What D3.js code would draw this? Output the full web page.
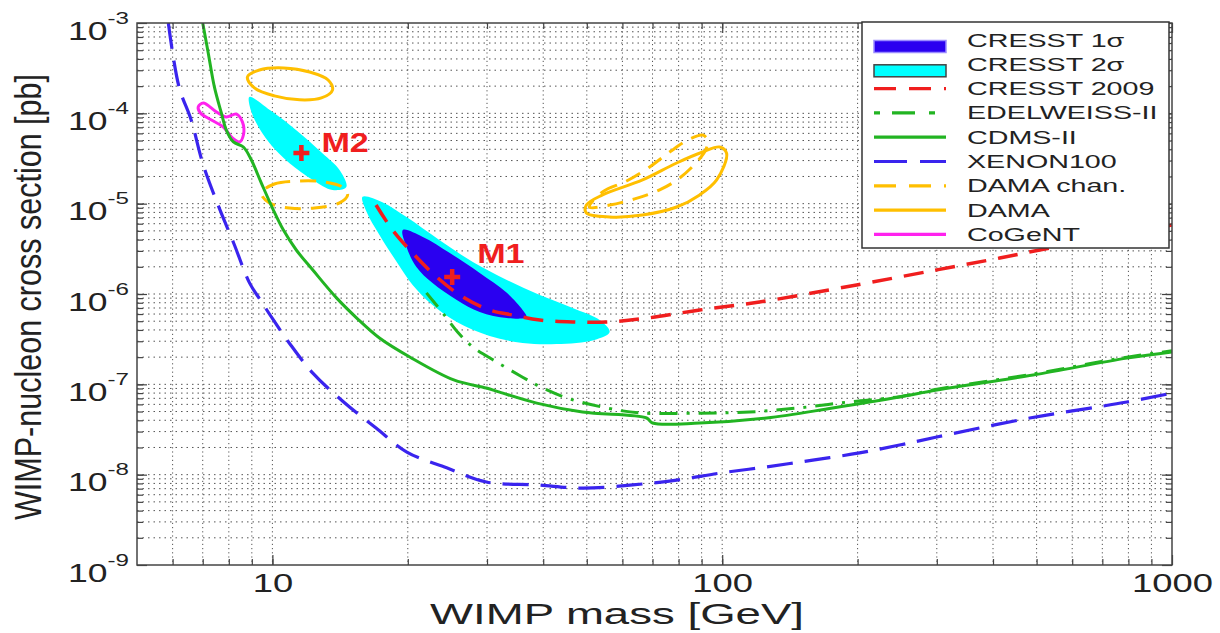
<!DOCTYPE html>
<html><head><meta charset="utf-8">
<script src="https://cdn.jsdelivr.net/npm/d3@7"></script>
<style>
body{margin:0;background:#fff;}
svg{display:block;font-family:"Liberation Sans",Arial,Helvetica,sans-serif;}
</style></head><body>
<svg id="chart" width="1220" height="633"></svg>
<script>
// ---------------- DATA (mass in GeV, cross section in pb) ----------------
const xenonMass  = [5.87, 6.2, 6.6, 7.0, 7.6, 8.2, 8.9, 9.4, 10.05, 10.9, 12.3, 14.4, 17.0, 19.9, 24.4, 29.9, 38.7, 48.9, 63.2, 79.2, 98.7, 125.5, 159, 202, 248, 300, 483, 794, 1000];
const xenonSigma = [1e-3, 1.96e-4, 8.4e-5, 2.8e-5, 9.2e-6, 3.67e-6, 1.32e-6, 8.6e-7, 5.16e-7, 2.87e-7, 1.33e-7, 6.37e-8, 3.28e-8, 1.78e-8, 1.19e-8, 8.3e-9, 7.7e-9, 7.1e-9, 7.7e-9, 8.7e-9, 1.04e-8, 1.22e-8, 1.45e-8, 1.74e-8, 2.13e-8, 2.61e-8, 4.24e-8, 6.37e-8, 8.0e-8];

const cdmsMass  = [7.0, 7.2, 7.43, 7.7, 7.9, 8.19, 8.62, 8.98, 9.45, 10.05, 10.58, 11.3, 12.3, 13.9, 15.4, 17.3, 20.2, 25.3, 29.9, 32.0, 38.7, 48.9, 67.9, 70.0, 89.1, 125.5, 176, 248, 300, 491, 794, 1000];
const cdmsSigma = [1e-3, 4.66e-4, 1.96e-4, 1.01e-4, 6.53e-5, 4.82e-5, 4.24e-5, 3.04e-5, 1.69e-5, 8.5e-6, 5.1e-6, 3.07e-6, 1.84e-6, 9.0e-7, 5.42e-7, 3.26e-7, 2.01e-7, 1.12e-7, 9.1e-8, 8.2e-8, 6.2e-8, 4.94e-8, 4.24e-8, 3.73e-8, 3.73e-8, 4.24e-8, 5.47e-8, 7.24e-8, 8.65e-8, 1.27e-7, 1.95e-7, 2.28e-7];

const edwMass  = [22.0, 23.9, 25.8, 27.9, 31.5, 36.0, 39.9, 45.8, 58.4, 66.5, 89.1, 115, 149, 192, 248, 300, 490, 794, 1000];
const edwSigma = [1.03e-6, 6.2e-7, 3.8e-7, 2.59e-7, 1.77e-7, 1.2e-7, 9.1e-8, 6.9e-8, 5.2e-8, 4.8e-8, 4.8e-8, 4.94e-8, 5.5e-8, 6.4e-8, 7.3e-8, 8.8e-8, 1.3e-7, 2.0e-7, 2.35e-7];

const cresst09Mass  = [17.0, 18.5, 20.5, 23.2, 26.5, 30.4, 34.2, 39.3, 46.5, 55.3, 67.9, 89.1, 121, 199, 300, 414, 508, 1000];
const cresst09Sigma = [9.66e-6, 5.1e-6, 2.84e-6, 1.54e-6, 9.27e-7, 6.65e-7, 5.85e-7, 5.15e-7, 4.9e-7, 4.9e-7, 5.4e-7, 6.65e-7, 8.15e-7, 1.26e-6, 1.85e-6, 2.5e-6, 3.07e-6, 5.8e-6];

const cresst2M1Mass  = [15.86, 17.56, 19.87, 23.5, 27.9, 33.2, 39.3, 46.5, 53.4, 56.2, 52.0, 42.8, 36.0, 30.4, 25.7, 22.7, 20.5, 18.9, 17.3, 16.2];
const cresst2M1Sigma = [1.19e-5, 1.04e-5, 7.1e-6, 3.96e-6, 2.26e-6, 1.43e-6, 9.75e-7, 7.0e-7, 5.15e-7, 3.79e-7, 3.1e-7, 2.79e-7, 2.87e-7, 3.43e-7, 4.9e-7, 7.55e-7, 1.26e-6, 2.26e-6, 4.5e-6, 8.1e-6];

const cresst2M2Mass  = [8.89, 10.0, 11.3, 12.9, 14.1, 14.6, 13.6, 12.3, 10.9, 9.85, 9.21, 8.89];
const cresst2M2Sigma = [1.52e-4, 1.04e-4, 6.5e-5, 3.64e-5, 2.36e-5, 1.53e-5, 1.42e-5, 1.83e-5, 2.82e-5, 4.7e-5, 7.8e-5, 1.24e-4];

const cresst1Mass  = [19.5, 21.6, 24.8, 28.9, 33.2, 36.0, 36.7, 33.2, 28.9, 25.7, 22.7, 20.9, 19.87];
const cresst1Sigma = [5.1e-6, 4.27e-6, 2.84e-6, 1.71e-6, 1.03e-6, 6.65e-7, 5.56e-7, 5.42e-7, 6.32e-7, 8.6e-7, 1.32e-6, 1.99e-6, 3.31e-6];

const damaLowMass  = [8.80, 9.36, 10.6, 12.1, 13.3, 13.6, 12.85, 11.5, 10.1, 9.12];
const damaLowSigma = [2.52e-4, 3.02e-4, 3.18e-4, 2.87e-4, 2.34e-4, 1.81e-4, 1.48e-4, 1.41e-4, 1.56e-4, 1.91e-4];
const damaHighMass  = [49.9, 54.2, 66.5, 79.2, 90.5, 98.7, 102.3, 97.2, 89.1, 79.2, 66.5, 56.2, 49.9];
const damaHighSigma = [9.66e-6, 1.25e-5, 1.83e-5, 2.82e-5, 3.73e-5, 4.24e-5, 3.6e-5, 1.83e-5, 1.25e-5, 9.18e-6, 7.48e-6, 7.12e-6, 7.88e-6];

const damaChLowMass  = [9.45, 10.1, 11.5, 13.05, 14.3, 14.7, 14.1, 12.4, 10.9, 9.85];
const damaChLowSigma = [1.31e-5, 1.65e-5, 1.78e-5, 1.74e-5, 1.53e-5, 1.25e-5, 1.02e-5, 8.95e-6, 8.95e-6, 1.02e-5];
const damaChHighMass  = [50.7, 54.2, 61.3, 69.0, 76.4, 84.7, 90.5, 92.8, 91.9, 87.8, 80.4, 72.6, 63.9, 56.2];
const damaChHighSigma = [9.18e-6, 1.35e-5, 1.78e-5, 2.55e-5, 3.73e-5, 5.2e-5, 5.75e-5, 5.07e-5, 3.93e-5, 2.89e-5, 1.92e-5, 1.42e-5, 1.13e-5, 9.66e-6];

const cogentMass  = [6.84, 7.02, 7.50, 7.90, 8.31, 8.58, 8.62, 8.45, 8.15, 7.78, 7.32, 6.92];
const cogentSigma = [1.18e-4, 1.30e-4, 1.04e-4, 9.1e-5, 9.8e-5, 8.0e-5, 5.75e-5, 4.82e-5, 5.33e-5, 7.06e-5, 8.43e-5, 1.01e-4];

const markerMass   = [11.6, 25.1];
const markerSigma  = [3.64e-5, 1.54e-6];
const markerLabels = ["M2", "M1"];

const xTickValues = [10, 100, 1000];
const xTickLabels = ["10", "100", "1000"];
const yTickValues = [1e-3, 1e-4, 1e-5, 1e-6, 1e-7, 1e-8, 1e-9];
const yTickBase   = ["10", "10", "10", "10", "10", "10", "10"];
const yTickExp    = ["-3", "-4", "-5", "-6", "-7", "-8", "-9"];

const legendLabels = ["CRESST 1σ", "CRESST 2σ", "CRESST 2009", "EDELWEISS-II", "CDMS-II", "XENON100", "DAMA chan.", "DAMA", "CoGeNT"];

const xTitle = "WIMP mass [GeV]";
const yTitle = "WIMP-nucleon cross section [pb]";

// ---------------- DRAWING ----------------
const zip = (a, b) => a.map((v, i) => [v, b[i]]);
const W = 1220, H = 633;
const L = 137, R = 1172, T = 23, B = 565;
const x = d3.scaleLog().domain([5, 1000]).range([L, R]);
const y = d3.scaleLog().domain([1e-9, 1e-3]).range([B, T]);

const C = {
  cyan: "#00ffff", s1: "#2a00f0", red: "#f01e1e", green: "#22b422",
  xenon: "#3a24ee", dama: "#ffbf00", cogent: "#ff22ee"
};

const svg = d3.select("#chart");
svg.append("rect").attr("width", W).attr("height", H).attr("fill", "#fff");
svg.append("defs").append("clipPath").attr("id", "clip")
  .append("rect").attr("x", L).attr("y", T).attr("width", R - L).attr("height", B - T);

// grid
const gridX = [];
[1, 10, 100].forEach(b => { for (let k = 1; k <= 9; k++) { const v = k * b; if (v > 5 && v < 1000) gridX.push(v); } });
const gridY = [];
for (let n = -9; n <= -4; n++) for (let k = 1; k <= 9; k++) { const v = k * Math.pow(10, n); if (!(k === 1 && n === -9)) gridY.push(v); }

const grid = svg.append("g");
grid.selectAll("line.gx").data(gridX).join("line")
  .attr("x1", d => x(d)).attr("x2", d => x(d)).attr("y1", T).attr("y2", B)
  .attr("stroke", "#555").attr("stroke-width", 1).attr("stroke-dasharray", "1.2,3");
grid.selectAll("line.gy").data(gridY).join("line")
  .attr("y1", d => y(d)).attr("y2", d => y(d)).attr("x1", L).attr("x2", R)
  .attr("stroke", "#555").attr("stroke-width", 1).attr("stroke-dasharray", "1.5,4");

const plot = svg.append("g").attr("clip-path", "url(#clip)");
const open = d3.line().x(d => x(d[0])).y(d => y(d[1])).curve(d3.curveCatmullRom.alpha(0.5));
const closed = d3.line().x(d => x(d[0])).y(d => y(d[1])).curve(d3.curveCatmullRomClosed.alpha(0.5));

// CRESST regions
plot.append("path").attr("d", closed(zip(cresst2M1Mass, cresst2M1Sigma))).attr("fill", C.cyan);
plot.append("path").attr("d", closed(zip(cresst2M2Mass, cresst2M2Sigma))).attr("fill", C.cyan);
plot.append("path").attr("d", closed(zip(cresst1Mass, cresst1Sigma))).attr("fill", C.s1);

// DAMA
plot.append("path").attr("d", closed(zip(damaLowMass, damaLowSigma))).attr("fill", "none").attr("stroke", C.dama).attr("stroke-width", 3);
plot.append("path").attr("d", closed(zip(damaHighMass, damaHighSigma))).attr("fill", "none").attr("stroke", C.dama).attr("stroke-width", 3);
plot.append("path").attr("d", closed(zip(damaChLowMass, damaChLowSigma))).attr("fill", "none").attr("stroke", C.dama).attr("stroke-width", 3).attr("stroke-dasharray", "16,10");
plot.append("path").attr("d", closed(zip(damaChHighMass, damaChHighSigma))).attr("fill", "none").attr("stroke", C.dama).attr("stroke-width", 3).attr("stroke-dasharray", "16,10");

// CoGeNT
plot.append("path").attr("d", closed(zip(cogentMass, cogentSigma))).attr("fill", "none").attr("stroke", C.cogent).attr("stroke-width", 3);

// limit curves
plot.append("path").attr("d", open(zip(xenonMass, xenonSigma))).attr("fill", "none").attr("stroke", C.xenon).attr("stroke-width", 3.2).attr("stroke-dasharray", "26,12");
plot.append("path").attr("d", open(zip(edwMass, edwSigma))).attr("fill", "none").attr("stroke", C.green).attr("stroke-width", 3).attr("stroke-dasharray", "18,9,3,9");
plot.append("path").attr("d", open(zip(cdmsMass, cdmsSigma))).attr("fill", "none").attr("stroke", C.green).attr("stroke-width", 3);
plot.append("path").attr("d", open(zip(cresst09Mass, cresst09Sigma))).attr("fill", "none").attr("stroke", C.red).attr("stroke-width", 3.5).attr("stroke-dasharray", "20,12");

// markers
const markers = zip(markerMass, markerSigma);
plot.selectAll("path.mk").data(markers).join("path")
  .attr("d", d => { const cx = x(d[0]), cy = y(d[1]); return `M${cx - 8},${cy}H${cx + 8}M${cx},${cy - 8}V${cy + 8}`; })
  .attr("stroke", C.red).attr("stroke-width", 4.5).attr("fill", "none");
const labelOffset = [[20, -1], [25, -14]];
svg.selectAll("text.mk").data(markers).join("text")
  .attr("transform", (d, i) => `translate(${x(d[0]) + labelOffset[i][0]},${y(d[1]) + labelOffset[i][1]}) scale(1.22,1)`)
  .attr("font-size", 28).attr("font-weight", "bold").attr("fill", C.red)
  .text((d, i) => markerLabels[i]);

// axes box
svg.append("rect").attr("x", L).attr("y", T).attr("width", R - L).attr("height", B - T)
  .attr("fill", "none").attr("stroke", "#444").attr("stroke-width", 1.5);

// inner ticks
function inTicks(gen, tr, values, size) {
  svg.append("g").attr("transform", tr)
    .call(gen.tickValues(values).tickSizeInner(-size).tickSizeOuter(0).tickFormat(""))
    .call(g => { g.select(".domain").remove(); g.selectAll("line").attr("stroke", "#444").attr("stroke-width", 1.2); });
}
inTicks(d3.axisBottom(x), `translate(0,${B})`, xTickValues, 10);
inTicks(d3.axisBottom(x), `translate(0,${B})`, gridX, 6);
inTicks(d3.axisTop(x), `translate(0,${T})`, xTickValues, 10);
inTicks(d3.axisTop(x), `translate(0,${T})`, gridX, 6);
inTicks(d3.axisLeft(y), `translate(${L},0)`, yTickValues, 10);
inTicks(d3.axisLeft(y), `translate(${L},0)`, gridY, 6);
inTicks(d3.axisRight(y), `translate(${R},0)`, yTickValues, 10);
inTicks(d3.axisRight(y), `translate(${R},0)`, gridY, 6);

// tick labels
const gx = svg.append("g").attr("transform", `translate(0,${B})`)
  .call(d3.axisBottom(x).tickValues(xTickValues).tickSize(0).tickFormat((d, i) => xTickLabels[i]));
gx.select(".domain").remove();
gx.selectAll(".tick text").attr("y", 0).attr("dy", null)
  .attr("transform", "translate(0,27) scale(1.4,1)")
  .attr("font-size", 26).attr("font-family", null).attr("fill", "#222");

const gy = svg.append("g").attr("transform", `translate(${L},0)`)
  .call(d3.axisLeft(y).tickValues(yTickValues).tickSize(0).tickFormat(() => ""));
gy.select(".domain").remove();
gy.selectAll(".tick text").each(function (d, i) {
  const t = d3.select(this);
  t.text(null).attr("x", 0).attr("dy", null).attr("y", 16)
    .attr("text-anchor", "end").attr("font-size", 25).attr("font-family", null).attr("fill", "#222")
    .attr("transform", "translate(-8,0) scale(1.42,1)");
  t.append("tspan").text(yTickBase[i]);
  t.append("tspan").attr("font-size", 17).attr("dy", -16).text(yTickExp[i]);
});

// axis titles
svg.append("text").attr("transform", "translate(617,624) scale(1.52,1)")
  .attr("text-anchor", "middle").attr("font-size", 30).attr("fill", "#222").text(xTitle);
svg.append("text").attr("transform", "translate(41,297) rotate(-90) scale(1.13,1.35)")
  .attr("text-anchor", "middle").attr("font-size", 27).attr("fill", "#222").text(yTitle);

// legend
const lg = svg.append("g");
lg.append("rect").attr("x", 862).attr("y", 22).attr("width", 307).attr("height", 226)
  .attr("fill", "#fff").attr("stroke", "#333").attr("stroke-width", 1.5);
const legendStyle = [
  {type: "rect", fill: C.s1, stroke: "#9a8cff"},
  {type: "rect", fill: C.cyan, stroke: "#444"},
  {type: "line", stroke: C.red, dash: "22,13"},
  {type: "line", stroke: C.green, dash: "6,12,23,14"},
  {type: "line", stroke: C.green, dash: null},
  {type: "line", stroke: C.xenon, dash: "33,13"},
  {type: "line", stroke: C.dama, dash: "22,13"},
  {type: "line", stroke: C.dama, dash: null},
  {type: "line", stroke: C.cogent, dash: null}
];
legendLabels.forEach((lab, i) => {
  const cy = 40 + i * 24.3;
  const s = legendStyle[i];
  if (s.type === "rect") {
    lg.append("rect").attr("x", 874).attr("y", cy + 0.5).attr("width", 72).attr("height", 12)
      .attr("fill", s.fill).attr("stroke", s.stroke).attr("stroke-width", 1.5);
  } else {
    lg.append("line").attr("x1", 874).attr("x2", 946).attr("y1", cy).attr("y2", cy)
      .attr("stroke", s.stroke).attr("stroke-width", 3.2).attr("stroke-dasharray", s.dash);
  }
  lg.append("text").attr("transform", `translate(967,${cy + 6.5}) scale(1.55,1)`)
    .attr("font-size", 18.5).attr("fill", "#222").text(lab);
});
</script>
</body></html>
